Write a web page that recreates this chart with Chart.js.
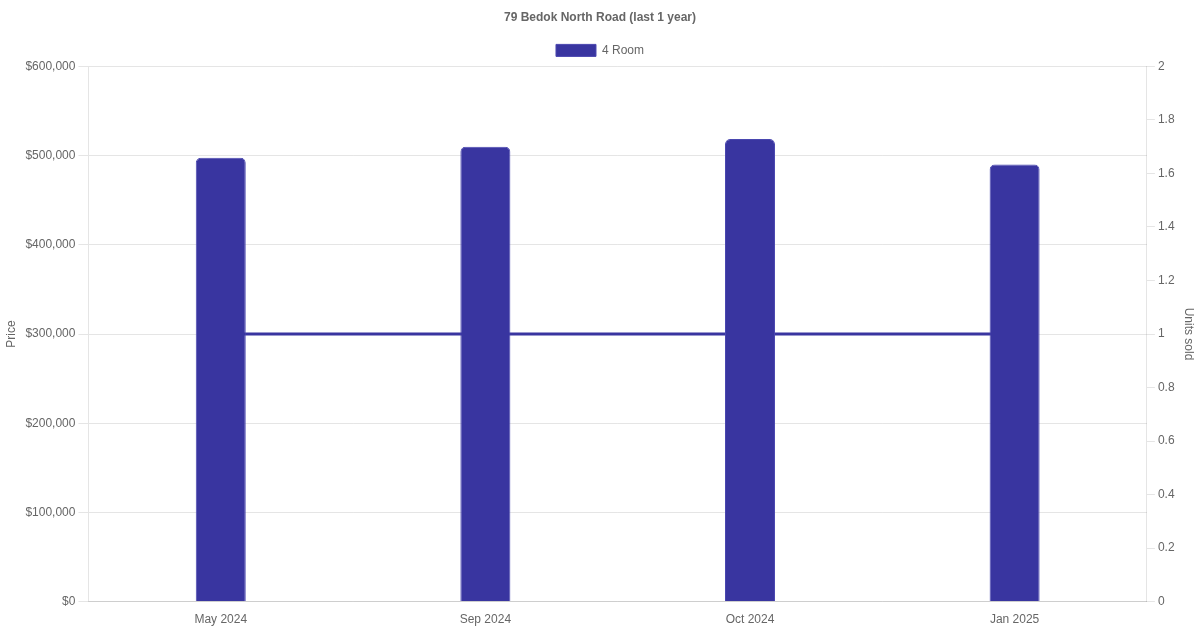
<!DOCTYPE html>
<html>
<head>
<meta charset="utf-8">
<script src="https://cdn.jsdelivr.net/npm/chart.js@4"></script>
<style>
  html, body { margin: 0; padding: 0; background: #fff; }
  #wrap { width: 1200px; height: 630px; }
</style>
</head>
<body>
<div id="wrap"><canvas id="chart"></canvas></div>
<script>
// data
const months = ['May 2024', 'Sep 2024', 'Oct 2024', 'Jan 2025'];
const prices = [497500, 510000, 518500, 490000];
const unitsSold = [1, 1, 1, 1];

const barColor = '#3935A0';

Chart.defaults.font.family = '"Liberation Sans", Arial, Helvetica, sans-serif';
Chart.defaults.color = '#666';

new Chart(document.getElementById('chart'), {
  data: {
    labels: months,
    datasets: [
      {
        type: 'bar',
        label: '4 Room',
        data: prices,
        backgroundColor: barColor,
        borderColor: '#4a47b0',
        borderWidth: 1,
        borderRadius: 5,
        maxBarThickness: 50,
        yAxisID: 'y',
        order: 0,
      },
      {
        type: 'line',
        label: 'Units sold',
        data: unitsSold,
        borderColor: barColor,
        backgroundColor: barColor,
        borderWidth: 3,
        pointRadius: 0,
        yAxisID: 'y1',
        order: 1,
      },
    ],
  },
  options: {
    responsive: true,
    maintainAspectRatio: false,
    animation: false,
    plugins: {
      title: {
        display: true,
        text: '79 Bedok North Road (last 1 year)',
        font: { size: 12, weight: 'bold' },
        padding: { top: 10, bottom: 10 },
      },
      legend: {
        labels: {
          filter: (item) => item.text === '4 Room',
          font: { size: 12 },
        },
      },
      tooltip: { enabled: false },
    },
    scales: {
      x: {
        grid: { display: false },
        ticks: { font: { size: 12 } },
      },
      y: {
        position: 'left',
        min: 0,
        max: 600000,
        grid: { tickLength: 10 },
        ticks: {
          stepSize: 100000,
          font: { size: 12 },
          callback: (v) => '$' + v.toLocaleString('en-US'),
        },
        title: { display: true, text: 'Price', font: { size: 12 } },
      },
      y1: {
        position: 'right',
        min: 0,
        max: 2,
        ticks: {
          stepSize: 0.2,
          font: { size: 12 },
          callback: (v) => String(+v.toFixed(1)),
        },
        grid: { drawOnChartArea: false },
        title: { display: true, text: 'Units sold', font: { size: 12 } },
      },
    },
  },
});
</script>
</body>
</html>
